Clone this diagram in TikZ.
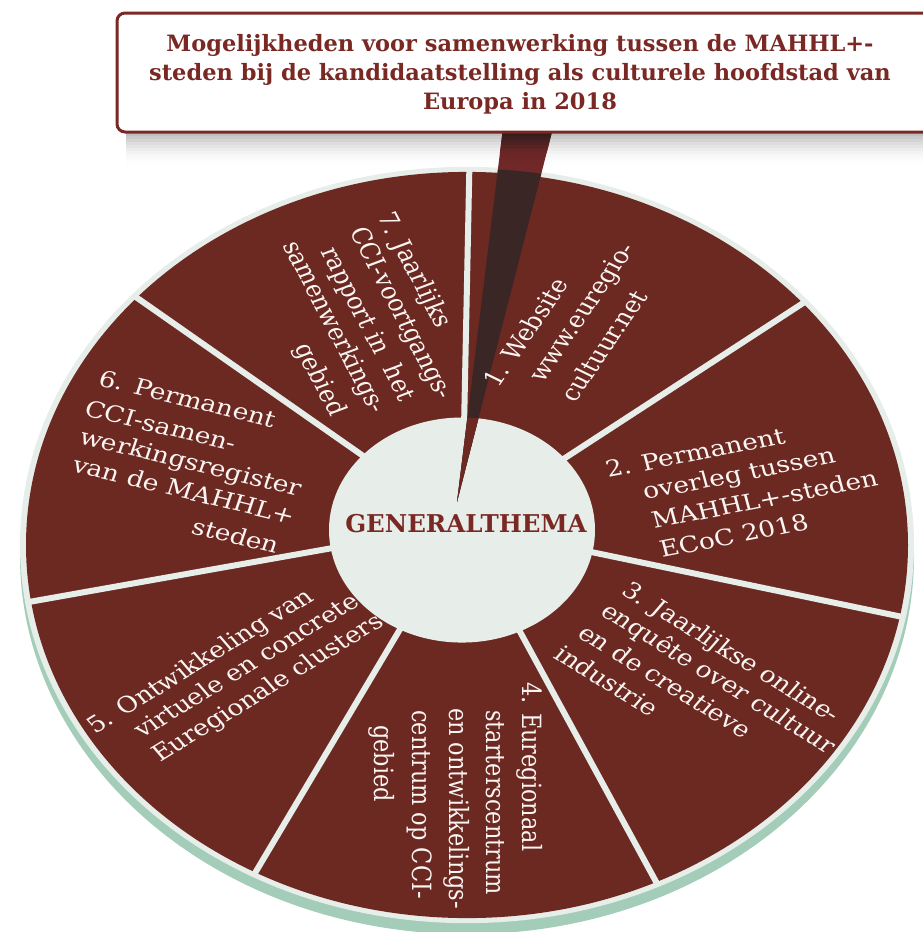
\documentclass[tikz,border=0pt]{standalone}
\usepackage{fontspec}
\setmainfont{DejaVu Serif}
\definecolor{segbrown}{RGB}{108,41,34}
\definecolor{rimlight}{RGB}{231,238,234}
\definecolor{diskgreen}{RGB}{163,205,185}
\definecolor{titlered}{RGB}{122,40,35}
\definecolor{pointerdark}{RGB}{59,38,38}
\definecolor{pointerred}{RGB}{112,40,40}
\definecolor{segwhite}{RGB}{250,244,242}
\begin{document}
\begin{tikzpicture}[x=1pt,y=-1pt,
  segtext/.style={text=segwhite, font=\fontsize{26.5}{32}\selectfont, inner sep=0pt, anchor=base west, yscale=0.846},
  titletext/.style={text=titlered, font=\bfseries\fontsize{22.5}{29}\selectfont, align=center, inner sep=0pt},
  centertext/.style={text=titlered, font=\bfseries\fontsize{24.5}{29}\selectfont, inner sep=0pt},
  sepline/.style={rimlight, line width=6pt},
  titlebox/.style={draw=titlered, line width=3pt, fill=white, rounded corners=8pt}
]
\useasboundingbox (0,0) rectangle (923,932);

% ---- disk ----
\begin{scope}[shift={(467,545)}, yscale=0.846]
  \fill[diskgreen] (0,13) circle[radius=447];
  \fill[rimlight] (0,0) circle[radius=447];
  \fill[segbrown] (0,0) circle[radius=441];
  \begin{scope}
    \clip (0,0) circle[radius=445];
    \foreach \a in {89,37.57,-13.86,-65.29,-116.71,-168.14,140.43}
      \draw[sepline] (-5,-23.6) -- ({-5+560*cos(\a)},{-23.6-560*sin(\a)});
  \end{scope}
  \fill[rimlight] (-5,-17.7) circle[radius=133];
\end{scope}

% ---- pointer ----
\begin{scope}
  \clip (503,128) -- (553,128) -- (457,502) -- cycle;
  \fill[pointerred] (440,128) rectangle (560,510);
  \shade[top color=pointerdark, bottom color=pointerred] (440,128) rectangle (560,152);
  \fill[pointerdark, shift={(467,545)}, yscale=0.846] (0,0) circle[radius=445];
  \fill[segbrown, shift={(467,545)}, yscale=0.846] (-5,-17.7) circle[radius=133];
\end{scope}

% ---- shadow of title box ----
\foreach \i in {0,...,11}{
  \pgfmathsetmacro\op{0.30*(1-\i/12)^2}
  \fill[black, opacity=\op] (126,{130+3*\i}) rectangle (923,{133+3*\i});
}

% ---- title box ----
\draw[titlebox] (117,13) rectangle (945,132);
\node[titletext] (title) at (520,74.5) {Mogelijkheden voor samenwerking tussen de MAHHL+-\\steden bij de kandidaatstelling als culturele hoofdstad van\\Europa in 2018};

% ---- centre ----
\node[centertext, anchor=base] (centre) at (466,532) {GENERALTHEMA};

% ---- segment 1 ----
\node[segtext, rotate=60] (s1a) at (498,389) {1. Website};
\node[segtext, rotate=60] (s1b) at (543,384) {www.euregio-};
\node[segtext, rotate=60] (s1c) at (575,404) {cultuur.net};

% ---- segment 2 ----
\node[segtext, rotate=13] (s2a) at (608,478) {2. Permanent};
\node[segtext, rotate=13] (s2b) at (645,500) {overleg tussen};
\node[segtext, rotate=13] (s2c) at (654,529) {MAHHL+-steden};
\node[segtext, rotate=13] (s2d) at (662,558) {ECoC 2018};

% ---- segment 3 ----
\node[segtext, rotate=-36] (s3a) at (620,593) {3. Jaarlijkse online-};
\node[segtext, rotate=-36] (s3b) at (599,614) {enquête over cultuur};
\node[segtext, rotate=-36] (s3c) at (576,636) {en de creatieve};
\node[segtext, rotate=-36] (s3d) at (552,657) {industrie};

% ---- segment 4 ----
\node[segtext, rotate=-90] (s4a) at (522,682) {4. Euregionaal};
\node[segtext, rotate=-90] (s4b) at (486,710) {starterscentrum};
\node[segtext, rotate=-90] (s4c) at (449,708) {en ontwikkelings-};
\node[segtext, rotate=-90] (s4d) at (412,710) {centrum op CCI-};
\node[segtext, rotate=-90] (s4e) at (374,725) {gebied};

% ---- segment 5 ----
\node[segtext, rotate=36] (s5a) at (95,735) {5. Ontwikkeling van};
\node[segtext, rotate=36] (s5b) at (142,739) {virtuele en concrete};
\node[segtext, rotate=36] (s5c) at (160,763) {Euregionale clusters};

% ---- segment 6 ----
\node[segtext, rotate=-16] (s6a) at (97,385) {6. Permanent};
\node[segtext, rotate=-16] (s6b) at (83,415) {CCI-samen-};
\node[segtext, rotate=-16] (s6c) at (78,443) {werkingsregister};
\node[segtext, rotate=-16] (s6d) at (71,471) {van de MAHHL+};
\node[segtext, rotate=-16] (s6e) at (190,533) {steden};

% ---- segment 7 ----
\node[segtext, rotate=-66] (s7a) at (377,216) {7. Jaarlijks};
\node[segtext, rotate=-66] (s7b) at (349,231) {CCI-voortgangs-};
\node[segtext, rotate=-66] (s7c) at (320,251) {rapport in~~het};
\node[segtext, rotate=-66] (s7d) at (282,245) {samenwerkings-};
\node[segtext, rotate=-66] (s7e) at (294,347) {gebied};
\end{tikzpicture}
\end{document}
